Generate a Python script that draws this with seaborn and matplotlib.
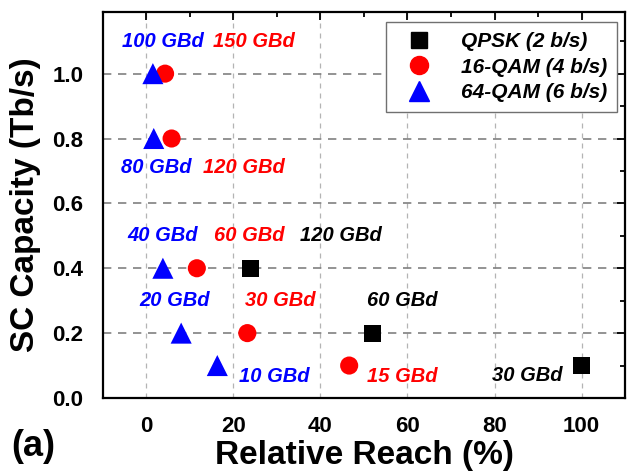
import matplotlib
matplotlib.use("Agg")
import matplotlib.pyplot as plt
from matplotlib.ticker import MultipleLocator
from matplotlib.lines import Line2D
import seaborn as sns
import pandas as pd

# ---- data ----
qpsk_reach = [24, 52, 100]
qpsk_cap = [0.4, 0.2, 0.1]
qam16_reach = [4.3, 5.8, 11.6, 23.2, 46.6]
qam16_cap = [1.0, 0.8, 0.4, 0.2, 0.1]
qam64_reach = [1.5, 1.7, 3.8, 8.0, 16.3]
qam64_cap = [1.0, 0.8, 0.4, 0.2, 0.1]
series_names = ["QPSK (2 b/s)", "16-QAM (4 b/s)", "64-QAM (6 b/s)"]

label_texts = ["100 GBd", "150 GBd", "80 GBd", "120 GBd", "40 GBd", "60 GBd", "120 GBd",
               "20 GBd", "30 GBd", "60 GBd", "10 GBd", "15 GBd", "30 GBd"]
label_series = [2, 1, 2, 1, 2, 1, 0, 2, 1, 0, 2, 1, 0]
label_x = [3.7, 24.7, 2.3, 22.4, 3.7, 23.6, 44.6, 6.5, 30.8, 58.7, 29.5, 58.9, 87.4]
label_y = [1.098, 1.098, 0.71, 0.71, 0.50, 0.50, 0.50, 0.30, 0.30, 0.30, 0.065, 0.065, 0.07]

x_ticks = [0, 20, 40, 60, 80, 100]
y_ticks = [0.0, 0.2, 0.4, 0.6, 0.8, 1.0]

# ---- styling ----
sns.set_theme(style="white")
plt.rcParams["font.family"] = ["Liberation Sans", "DejaVu Sans"]
plt.rcParams["font.weight"] = "bold"
plt.rcParams["text.color"] = "black"
plt.rcParams["axes.labelcolor"] = "black"
plt.rcParams["xtick.color"] = "black"
plt.rcParams["ytick.color"] = "black"

colors = ["black", "red", "blue"]
markers = ["s", "o", "^"]
sizes = [150, 170, 230]

fig = plt.figure(figsize=(6.27, 4.73), dpi=100)
ax = fig.add_axes([0.164, 0.1586, 0.833, 0.816])

frames = [
    pd.DataFrame({"reach": qpsk_reach, "cap": qpsk_cap}),
    pd.DataFrame({"reach": qam16_reach, "cap": qam16_cap}),
    pd.DataFrame({"reach": qam64_reach, "cap": qam64_cap}),
]
for df, c, m, s in zip(frames, colors, markers, sizes):
    sns.scatterplot(data=df, x="reach", y="cap", ax=ax, color=c, marker=m, s=s,
                    edgecolor="none", linewidth=0, zorder=3, legend=False)

for t, si, x, y in zip(label_texts, label_series, label_x, label_y):
    ax.text(x, y, t, color=colors[si], fontsize=14.5, fontweight="bold", fontstyle="italic",
            ha="center", va="center", zorder=4)

ax.set_xlim(-10, 110)
ax.set_ylim(0, 1.19)
ax.set_xticks(x_ticks)
ax.set_yticks(y_ticks)
ax.set_yticklabels([f"{v:.1f}" for v in y_ticks])
ax.xaxis.set_minor_locator(MultipleLocator(10))
ax.yaxis.set_minor_locator(MultipleLocator(0.1))
ax.tick_params(which="both", direction="in", top=True, right=True, color="black", width=1.3)
ax.tick_params(which="major", length=6, labelsize=16, labelcolor="black")
ax.tick_params(axis="x", which="major", pad=13)
ax.tick_params(axis="y", which="major", pad=14)
ax.tick_params(which="minor", length=3.5)
for lab in ax.get_xticklabels() + ax.get_yticklabels():
    lab.set_fontweight("bold")

ax.xaxis.grid(True, which="major", linestyle=(0, (4, 4)), color="#b4b4b4", linewidth=0.9)
ax.yaxis.grid(True, which="major", linestyle=(0, (5, 4)), color="#808080", linewidth=1.2)
ax.set_axisbelow(True)

for sp in ax.spines.values():
    sp.set_color("black")
    sp.set_linewidth(1.6)

ax.set_xlabel("Relative Reach (%)", fontsize=24, fontweight="bold", labelpad=2, color="black")
ax.set_ylabel("SC Capacity (Tb/s)", fontsize=24, fontweight="bold", labelpad=8, color="black")

handles = [Line2D([], [], linestyle="none", marker=m, color=c, markersize=ms)
           for m, c, ms in zip(markers, colors, [12, 13, 14])]
leg = ax.legend(handles, series_names, loc="upper right", bbox_to_anchor=(0.985, 0.974),
                borderaxespad=0, frameon=True, fancybox=False, edgecolor="#707070", framealpha=1,
                prop={"size": 15, "weight": "bold", "style": "italic"},
                handletextpad=0.9, borderpad=0.5, labelspacing=0.3, handlelength=2.2)
leg.get_frame().set_linewidth(1.0)
for txt in leg.get_texts():
    txt.set_color("black")

fig.text(0.018, 0.02, "(a)", fontsize=26, fontweight="bold", ha="left", va="bottom", color="black")

fig.savefig("out.png", dpi=100)
